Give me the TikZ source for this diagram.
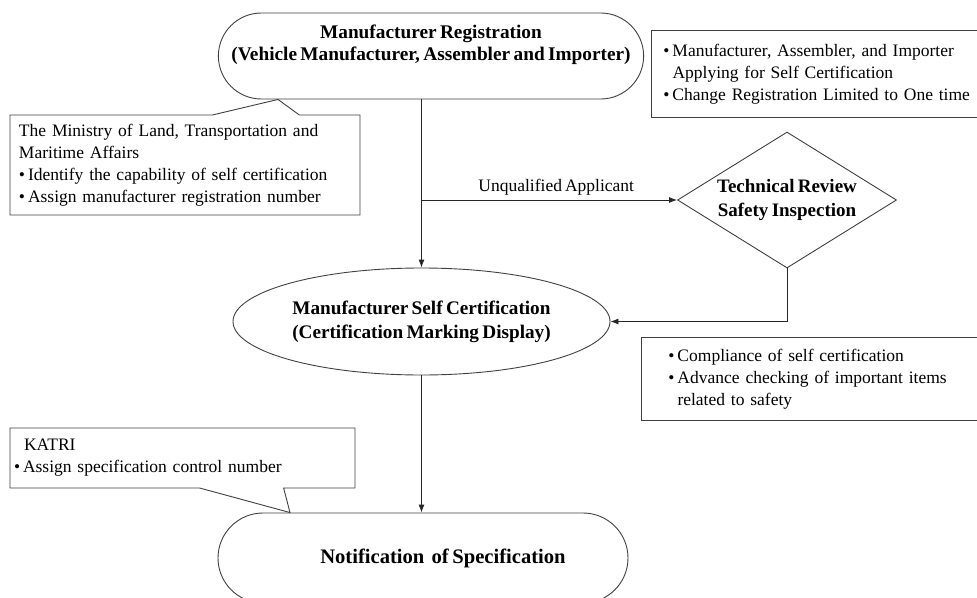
\documentclass[tikz,border=0pt]{standalone}
\usepackage{fontspec}
\setmainfont[WordSpace=0.7]{Liberation Serif}
\usetikzlibrary{arrows.meta,calc,shapes.geometric,shapes.misc,shapes.callouts}

\begin{document}
\begin{tikzpicture}[
    x=1pt, y=-1pt,
    every node/.style={font=\fontsize{17.5}{22}\selectfont, text=black},
    outline/.style={draw=black!75, line width=0.9pt},
    stadium/.style={outline, rounded rectangle, minimum width=411pt, minimum height=86pt, inner sep=0pt, align=center, font=\fontsize{19.3}{22}\selectfont\bfseries},
    oval/.style={outline, ellipse, minimum width=377pt, minimum height=107pt, inner sep=0pt, align=center, font=\fontsize{19.2}{24}\selectfont\bfseries},
    check/.style={outline, diamond, aspect=1.6, minimum width=219pt, minimum height=136pt, inner sep=0pt, align=center, font=\fontsize{19}{24}\selectfont\bfseries},
    notebox/.style={outline, rectangle, align=left, inner ysep=0pt},
    note/.style={outline, rectangle callout, fill=white, align=left, inner ysep=0pt},
    flow/.style={-{Latex[length=8pt,width=6pt]}, black!85, line width=0.9pt}
]
    \useasboundingbox (0,0) rectangle (977,597);
    \clip (0,0) rectangle (977,597);

    \node[stadium] at (431,56) (reg) {Manufacturer Registration\\(Vehicle Manufacturer,~Assembler and Importer)\\[4pt]};
    \node[oval] at (421.5,321.5) (cert) {Manufacturer Self Certification\\(Certification Marking Display)};
    \node[stadium, minimum width=410pt, minimum height=90pt, font=\fontsize{20.6}{24}\selectfont\bfseries] at (423,558) (notif) {\hspace*{40pt}Notification~~of Specification};
    \node[check] at (787,200) (review) {Technical Review\\Safety Inspection};

    \node[notebox, anchor=north west, minimum height=87pt, inner xsep=12pt, text width=330pt] at (651,30) (apply) {%
        \textbullet\,Manufacturer, Assembler, and Importer\\
        \phantom{\textbullet\,}Applying for Self Certification\\
        \textbullet\,Change Registration Limited to One time};
    \node[notebox, anchor=north west, minimum height=83pt, inner xsep=27pt, text width=330pt] at (641,337) (safety) {%
        \textbullet\,Compliance of self certification\\
        \textbullet\,Advance checking of important items\\
        \phantom{\textbullet\,}related to safety};

    \coordinate (regtip) at ($(reg.south)+(-153,0)$);
    \coordinate (notiftip) at ($(notif.north)+(-133,0)$);

    \node[note, callout absolute pointer=(regtip), callout pointer width=87pt, minimum width=350pt, minimum height=100pt, text width=332pt] at (185,165) (ministry) {%
        The Ministry of Land, Transportation and\\
        Maritime Affairs\\
        \textbullet\,Identify the capability of self certification\\
        \textbullet\,Assign manufacturer registration number};
    \node[note, callout absolute pointer=(notiftip), callout pointer width=84pt, minimum width=345pt, minimum height=60pt, text width=337pt] at (182.5,458) (katri) {%
        \hspace*{10pt}KATRI\\
        \textbullet\,Assign specification control number};

    \draw[flow] (cert.north |- reg.south) -- (cert.north);
    \draw[flow] (cert.north |- review.west) -- node[above, inner sep=4pt, xshift=7pt] {Unqualified Applicant} (review.west);
    \draw[flow] (review.south) |- (cert.east);
    \draw[flow] (cert.south) -- (cert.south |- notif.north);
\end{tikzpicture}
\end{document}
